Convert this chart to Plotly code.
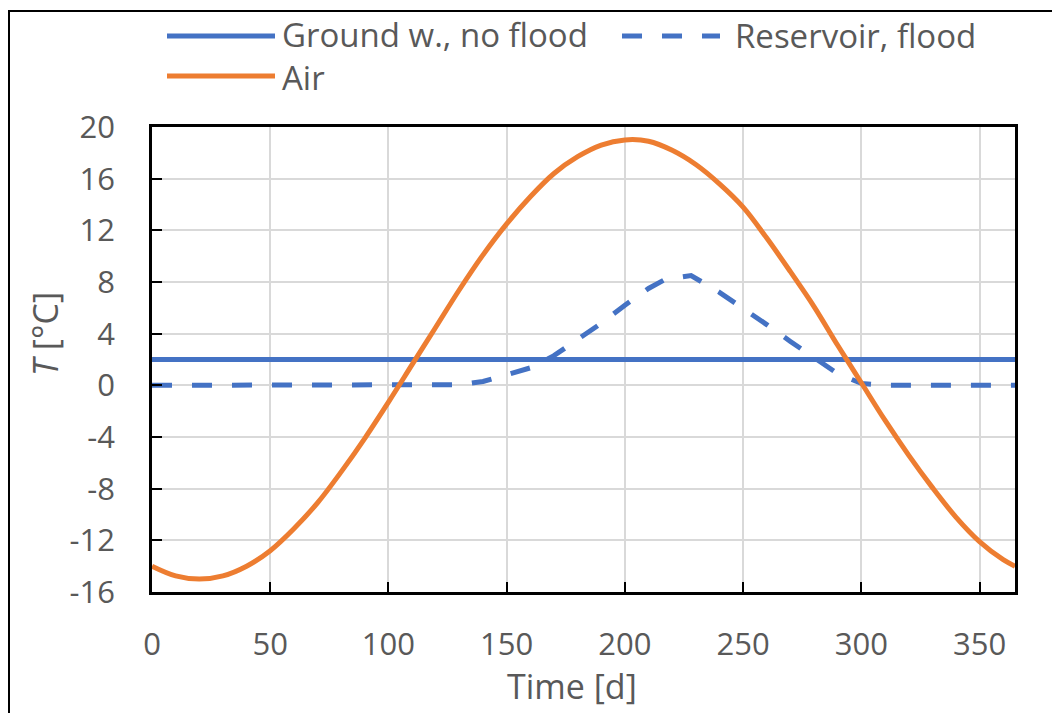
import plotly.graph_objects as go

# ---- data ----
air_day = [0, 10, 20, 30, 40, 50, 60, 70, 80, 90, 100, 110, 120, 130, 140, 150, 160, 170, 180,
           190, 200, 210, 220, 230, 240, 250, 260, 270, 280, 290, 300, 310, 320, 330, 340, 350, 360, 365]
air_temp = [-14.0, -14.75, -15.0, -14.75, -14.0, -12.8, -11.1, -9.1, -6.7, -4.1, -1.3, 1.6, 4.5, 7.4,
            10.1, 12.5, 14.6, 16.4, 17.7, 18.6, 19.0, 18.9, 18.2, 17.1, 15.6, 13.8, 11.4, 8.8, 6.1,
            3.1, 0.2, -2.7, -5.4, -7.9, -10.2, -12.1, -13.5, -14.0]

ground_day = [0, 365]
ground_temp = [2.0, 2.0]

res_day = [0, 120, 130, 140, 150, 160, 170, 180, 190, 200, 210, 217, 228, 240, 250, 260, 270,
           280, 290, 300, 310, 365]
res_temp = [0.0, 0.0, 0.05, 0.3, 0.8, 1.35, 2.3, 3.5, 4.8, 6.2, 7.5, 8.2, 8.5, 7.2, 6.0, 4.7,
            3.4, 2.1, 0.9, 0.15, 0.0, 0.0]

x_ticks = [0, 50, 100, 150, 200, 250, 300, 350]
x_labels = ["0", "50", "100", "150", "200", "250", "300", "350"]
y_ticks = [-16, -12, -8, -4, 0, 4, 8, 12, 16, 20]
y_labels = ["-16", "-12", "-8", "-4", "0", "4", "8", "12", "16", "20"]

legend_names = ["Ground w., no flood", "Reservoir, flood", "Air"]

BLUE = "#4472C4"
ORANGE = "#ED7D31"
GREY = "#595959"
FONT = "Open Sans"
FS = 31      # tick labels
FL = 33      # legend text
FT = 34      # axis titles

fig = go.Figure()
fig.add_trace(go.Scatter(x=ground_day, y=ground_temp, mode="lines", name=legend_names[0],
                         line=dict(color=BLUE, width=5), showlegend=False))
fig.add_trace(go.Scatter(x=res_day, y=res_temp, mode="lines", name=legend_names[1],
                         line=dict(color=BLUE, width=5, dash="20px,20px"), showlegend=False))
fig.add_trace(go.Scatter(x=air_day, y=air_temp, mode="lines", name=legend_names[2],
                         line=dict(color=ORANGE, width=5, shape="spline"), showlegend=False))

axis_common = dict(showline=True, linecolor="black", linewidth=2.5, mirror=True,
                   ticks="inside", ticklen=10, tickwidth=2, tickcolor="black",
                   showgrid=True, gridcolor="#d9d9d9", gridwidth=2, zeroline=False,
                   tickfont=dict(family=FONT, size=FS, color=GREY))

fig.update_xaxes(range=[0, 365], tickvals=x_ticks, ticktext=x_labels, ticklabelstandoff=23,
                 **axis_common)
fig.update_yaxes(range=[-16, 20], tickvals=y_ticks, ticktext=y_labels, ticklabelstandoff=28,
                 **axis_common)

W, H = 1052, 713
L, R, T, B = 152, 37, 127, 121
pw, ph = W - L - R, H - T - B

def px(x):
    return (x - L) / pw

def py(y):
    return (H - B - y) / ph

shapes = [
    # outer border of the figure
    dict(type="rect", xref="paper", yref="paper", x0=px(9), x1=px(1060), y0=py(720), y1=py(11),
         line=dict(color="black", width=2), layer="above"),
    # legend lines
    dict(type="line", xref="paper", yref="paper", x0=px(167), x1=px(275), y0=py(36), y1=py(36),
         line=dict(color=BLUE, width=5)),
    dict(type="line", xref="paper", yref="paper", x0=px(622), x1=px(720), y0=py(36), y1=py(36),
         line=dict(color=BLUE, width=5, dash="20px,20px")),
    dict(type="line", xref="paper", yref="paper", x0=px(167), x1=px(275), y0=py(76), y1=py(76),
         line=dict(color=ORANGE, width=5)),
]

annotations = [
    # left legend column: two rows in one text block
    dict(text=legend_names[0] + "<br>" + legend_names[2], xref="paper", yref="paper",
         x=px(280), y=py(56), xanchor="left", yanchor="middle", align="left", showarrow=False,
         font=dict(family=FONT, size=FL, color=GREY)),
    dict(text=legend_names[1], xref="paper", yref="paper", x=px(733), y=py(35),
         xanchor="left", yanchor="middle", showarrow=False, font=dict(family=FONT, size=FL, color=GREY)),
    dict(text="<i>T</i> [°C]", xref="paper", yref="paper", x=px(45), y=py(334),
         xanchor="center", yanchor="middle", textangle=-90, showarrow=False,
         font=dict(family=FONT, size=FT, color=GREY)),
    dict(text="Time [d]", xref="paper", yref="paper", x=px(572), y=py(686),
         xanchor="center", yanchor="middle", showarrow=False, font=dict(family=FONT, size=FT, color=GREY)),
]

fig.update_layout(width=W, height=H, margin=dict(l=L, r=R, t=T, b=B),
                  paper_bgcolor="white", plot_bgcolor="white",
                  shapes=shapes, annotations=annotations, showlegend=False)

fig.write_html("out.html")
